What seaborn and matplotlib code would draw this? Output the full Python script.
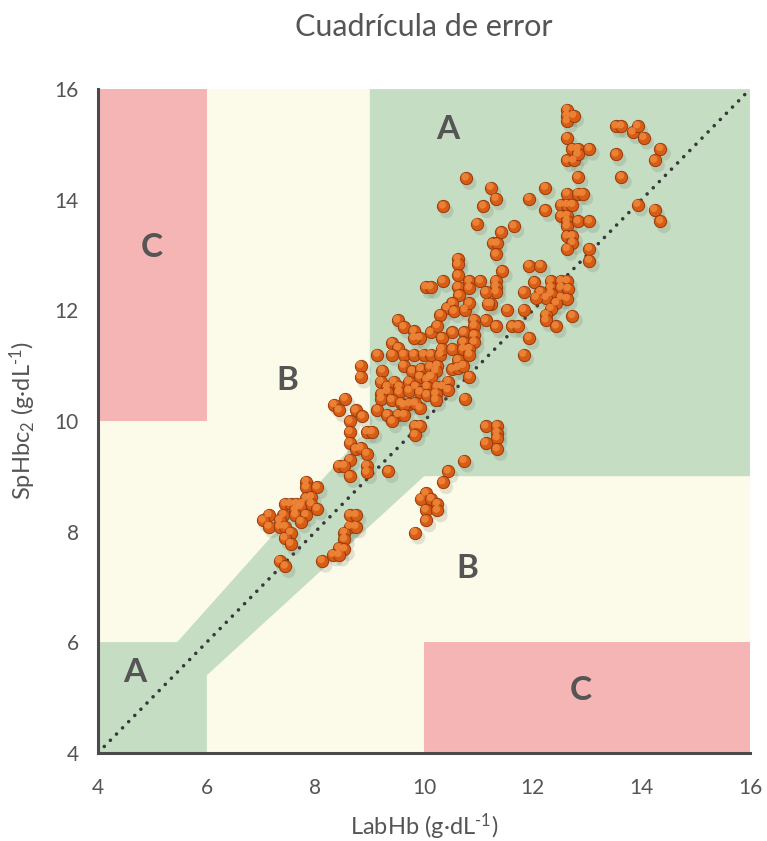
import matplotlib
matplotlib.use("Agg")
import matplotlib.pyplot as plt
import matplotlib.transforms as mtransforms
import seaborn as sns
import pandas as pd

# ---------------- data ----------------
lab_hb = [
    8.54, 8.34, 8.43, 8.74, 8.86, 8.63, 8.63, 8.95, 9.04, 8.63, 8.74, 8.83, 8.94, 8.63, 8.43, 8.53, 8.94, 8.94, 8.63, 9.34,
    7.83, 7.83, 8.03, 7.83, 7.92, 7.44, 7.54, 7.65, 7.75, 7.92, 8.03, 7.63, 7.72, 7.41, 7.63, 7.82, 7.14, 7.03, 7.14, 7.34,
    7.34, 7.44, 7.73, 7.54, 7.43, 7.54, 8.63, 8.74, 8.63, 8.74, 8.53, 8.53, 8.43, 8.53, 8.32, 8.43, 8.12, 7.34, 7.44, 9.83,
    11.26, 11.34, 11.32, 10.62, 10.62, 10.62, 11.44, 10.34, 10.83, 11.03, 11.32, 10.03, 10.12, 10.62, 10.83, 11.32, 11.32, 11.13, 10.64, 11.23,
    11.53, 10.52, 10.42, 10.30, 10.55, 10.75, 10.83, 10.92, 11.13, 11.32, 9.51, 9.62, 9.81, 9.92, 9.81, 10.12, 10.24, 10.52, 10.73, 10.92,
    10.92, 10.32, 10.72, 10.92, 9.41, 9.52, 9.41, 9.14, 9.62, 9.81, 9.99, 10.12, 10.30, 10.32, 10.52, 10.72, 10.83, 10.62, 10.83, 9.62,
    9.78, 9.94, 10.11, 10.24, 10.21, 10.11, 10.52, 10.62, 10.72, 10.83, 8.83, 8.83, 9.23, 9.20, 9.32, 9.44, 9.54, 9.72, 9.92, 10.05,
    10.13, 9.84, 10.05, 10.24, 10.44, 10.34, 9.32, 9.54, 9.72, 9.92, 10.05, 10.21, 10.44, 9.21, 9.21, 9.40, 9.57, 9.73, 9.92, 10.21,
    10.75, 9.14, 9.32, 9.52, 9.62, 9.41, 9.83, 9.83, 9.92, 9.83, 9.63, 11.17, 11.62,
    11.13, 11.34, 11.34, 11.34, 11.13, 11.34, 10.73, 10.44, 10.34, 10.03, 9.94, 10.13, 10.24, 10.03, 10.24, 10.03,
    10.77, 10.35, 11.09, 10.97,
    12.63, 12.63, 12.63, 12.75, 12.63, 12.73, 12.83, 13.04, 12.63, 12.75, 12.83, 12.83, 13.53, 13.63, 13.84, 13.93, 14.04, 13.53, 14.35, 14.24,
    13.63, 13.93, 14.24, 14.35, 11.23, 11.32, 12.23, 11.93, 12.23, 12.63, 12.83, 12.92, 12.52, 12.63, 12.73, 12.52, 12.63, 12.63, 12.63, 12.83,
    13.04, 12.63, 12.73, 12.73, 12.63, 13.04, 13.04, 11.42, 11.65, 11.93, 12.14, 12.03, 12.33, 12.52, 12.63, 12.33, 12.52, 12.65, 12.33, 12.14,
    12.52, 12.63, 12.24, 12.06, 11.83, 12.43, 12.33, 11.83, 12.24, 12.24, 12.73, 12.43, 11.73, 11.93, 11.83,
]
sp_hbc = [
    10.40, 10.29, 10.19, 10.19, 10.08, 9.99, 9.80, 9.80, 9.80, 9.60, 9.49, 9.51, 9.41, 9.30, 9.19, 9.19, 9.19, 9.07, 9.00, 9.09,
    8.90, 8.80, 8.80, 8.60, 8.62, 8.50, 8.50, 8.50, 8.50, 8.50, 8.41, 8.39, 8.45, 8.30, 8.30, 8.30, 8.30, 8.20, 8.09, 8.20,
    8.09, 8.09, 8.18, 7.98, 7.88, 7.78, 8.30, 8.30, 8.09, 8.09, 7.98, 7.86, 7.70, 7.68, 7.58, 7.58, 7.47, 7.47, 7.37, 7.98,
    13.21, 13.21, 13.01, 12.93, 12.83, 12.63, 12.71, 12.53, 12.53, 12.53, 12.53, 12.42, 12.42, 12.42, 12.41, 12.43, 12.33, 12.33, 12.27, 12.12,
    12.01, 12.13, 12.04, 11.92, 11.98, 12.01, 12.13, 11.83, 11.82, 11.71, 11.82, 11.70, 11.62, 11.50, 11.50, 11.60, 11.72, 11.60, 11.60, 11.72,
    11.55, 11.50, 11.42, 11.42, 11.41, 11.32, 11.20, 11.20, 11.20, 11.20, 11.20, 11.20, 11.20, 11.30, 11.30, 11.30, 11.30, 11.10, 11.20, 11.00,
    10.90, 10.94, 10.98, 11.00, 10.90, 10.80, 10.93, 10.96, 11.00, 10.80, 11.00, 10.80, 10.91, 10.71, 10.62, 10.71, 10.62, 10.71, 10.80, 10.75,
    10.80, 10.62, 10.62, 10.62, 10.71, 10.62, 10.53, 10.52, 10.55, 10.52, 10.47, 10.49, 10.56, 10.49, 10.40, 10.38, 10.32, 10.31, 10.23, 10.38,
    10.40, 10.20, 10.11, 10.11, 10.29, 9.99, 10.32, 9.91, 9.91, 9.75, 10.11, 12.12, 11.71,
    9.90, 9.91, 9.79, 9.69, 9.60, 9.49, 9.28, 9.09, 8.89, 8.69, 8.59, 8.59, 8.50, 8.39, 8.38, 8.20,
    14.39, 13.88, 13.88, 13.57,
    15.63, 15.52, 15.42, 15.52, 15.12, 14.92, 14.92, 14.92, 14.71, 14.71, 14.82, 14.41, 15.33, 15.33, 15.22, 15.33, 15.12, 14.82, 14.92, 14.71,
    14.41, 13.91, 13.82, 13.61, 14.22, 14.02, 14.22, 14.02, 13.81, 14.11, 14.11, 14.11, 13.91, 13.91, 13.91, 13.71, 13.71, 13.61, 13.52, 13.61,
    13.61, 13.34, 13.34, 13.22, 13.11, 13.11, 12.90, 13.41, 13.52, 12.81, 12.81, 12.51, 12.53, 12.53, 12.53, 12.41, 12.41, 12.39, 12.30, 12.33,
    12.23, 12.21, 12.23, 12.23, 12.33, 12.13, 12.03, 12.01, 11.92, 11.82, 11.90, 11.71, 11.71, 11.50, 11.20,
]

# error-grid zones (data units)
zone_a_x = [4, 6, 6, 10, 16, 16, 9, 9, 60 / 11, 4]
zone_a_y = [4, 4, 5.4, 9, 9, 16, 16, 9.9, 6, 6]
zone_c1_x = [4, 6, 6, 4]
zone_c1_y = [10, 10, 16, 16]
zone_c2_x = [10, 16, 16, 10]
zone_c2_y = [4, 4, 6, 6]
zone_labels = ["A", "A", "B", "B", "C", "C"]
zone_label_x = [4.68, 10.43, 7.48, 10.79, 4.99, 12.89]
zone_label_y = [5.45, 15.27, 10.74, 7.34, 13.13, 5.13]
identity = [4, 16]
ticks = [4, 6, 8, 10, 12, 14, 16]

df = pd.DataFrame({"LabHb": lab_hb, "SpHbc2": sp_hbc})

# ---------------- style ----------------
sns.set_theme(style="white")
plt.rcParams["font.family"] = ["Lato", "DejaVu Sans"]
plt.rcParams["mathtext.fontset"] = "custom"
plt.rcParams["mathtext.rm"] = "Lato"
plt.rcParams["mathtext.it"] = "Lato"

GREEN = "#c5ddc3"
YELLOW = "#fcfbe9"
RED = "#f5b5b5"
TEXT = "#555555"
SPINE = "#4b4b4d"

fig = plt.figure(figsize=(7.67, 8.41), dpi=100)
ax = fig.add_axes([0.128, 0.105, 0.850, 0.789])
ax.set_facecolor(YELLOW)

ax.fill(zone_a_x, zone_a_y, color=GREEN, lw=0, zorder=0.5)
ax.fill(zone_c1_x, zone_c1_y, color=RED, lw=0, zorder=0.5)
ax.fill(zone_c2_x, zone_c2_y, color=RED, lw=0, zorder=0.5)

for lab, lx, ly in zip(zone_labels, zone_label_x, zone_label_y):
    ax.text(lx, ly, lab, fontsize=24, fontweight="bold", color=TEXT,
            ha="center", va="center", zorder=1)

ax.plot(identity, identity, color="#38383a", lw=2.6,
        linestyle=(0, (0.01, 2.4)), dash_capstyle="round", zorder=1.5)

# shadow, ball, highlight
shadow_tr = mtransforms.offset_copy(ax.transData, fig=fig, x=2.5, y=-3.5, units="points")
sns.scatterplot(data=df, x="LabHb", y="SpHbc2", ax=ax, s=100, color="#6b6b5a",
                alpha=0.18, edgecolor="none", linewidth=0, transform=shadow_tr,
                zorder=2, legend=False)
sns.scatterplot(data=df, x="LabHb", y="SpHbc2", ax=ax, s=78, color="#d75c16",
                edgecolor="#983b0a", linewidth=0.7, zorder=3, legend=False)
hl_tr = mtransforms.offset_copy(ax.transData, fig=fig, x=-0.6, y=1.0, units="points")
sns.scatterplot(data=df, x="LabHb", y="SpHbc2", ax=ax, s=28, color="#ee8638",
                edgecolor="none", linewidth=0, alpha=0.9, transform=hl_tr,
                zorder=4, legend=False)

ax.set_xlim(4, 16)
ax.set_ylim(4, 16)
ax.set_xticks(ticks)
ax.set_yticks(ticks)
ax.set_xticklabels([str(t) for t in ticks])
ax.set_yticklabels([str(t) for t in ticks])

for side in ["top", "right"]:
    ax.spines[side].set_visible(False)
for side in ["left", "bottom"]:
    ax.spines[side].set_color(SPINE)
    ax.spines[side].set_linewidth(2.2)
ax.tick_params(axis="both", direction="in", length=6, width=1.8, color=SPINE,
               labelsize=15, labelcolor=TEXT)
ax.tick_params(axis="x", pad=18)
ax.tick_params(axis="y", pad=14)

ax.set_xlabel("LabHb (g·dL$^{\\text{-}1}$)", fontsize=17, color=TEXT, labelpad=10)
ax.set_ylabel("SpHbc$_{2}$ (g·dL$^{\\text{-}1}$)", fontsize=17, color=TEXT, labelpad=12)
ax.set_title("Cuadrícula de error", fontsize=22, color=TEXT, pad=38)

fig.savefig("out.png", dpi=100)
